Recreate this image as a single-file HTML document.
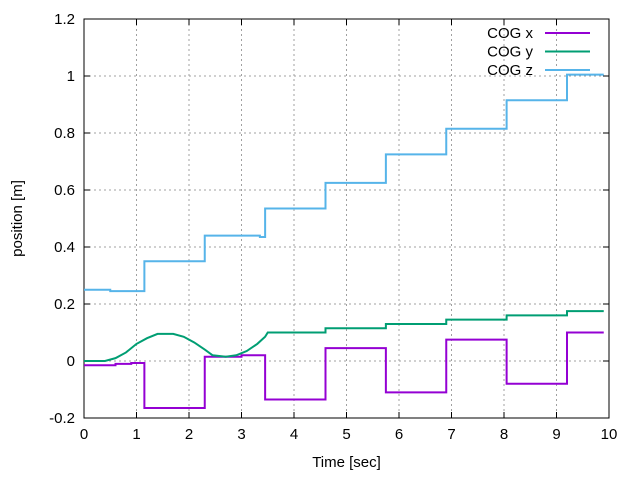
<!DOCTYPE html>
<html><head><meta charset="utf-8"><style>body{margin:0;background:#fff}svg{display:block;font-family:"Liberation Sans",sans-serif}</style></head>
<body>
<svg id="c" width="640" height="480"></svg>
<script>
const xTicks=[0,1,2,3,4,5,6,7,8,9,10];
const yTicks=[-0.2,0,0.2,0.4,0.6,0.8,1,1.2];
const yTickLabels=["-0.2","0","0.2","0.4","0.6","0.8","1","1.2"];
const seriesNames=["COG x","COG y","COG z"];
const cogXt=[0,0.6,0.9,1.15,2.3,3.0,3.45,4.6,5.75,6.9,8.05,9.2,9.9];
const cogXv=[-0.015,-0.01,-0.007,-0.165,0.015,0.02,-0.135,0.045,-0.11,0.075,-0.08,0.1,0.1];
const cogYt=[0,0.4,0.6,0.8,1.0,1.2,1.4,1.7,1.9,2.1,2.3,2.45,2.7,2.9,3.1,3.3,3.45,3.5,4.6,4.6,5.75,5.75,6.9,6.9,8.05,8.05,9.2,9.2,9.9];
const cogYv=[0,0,0.01,0.03,0.06,0.08,0.095,0.095,0.085,0.065,0.04,0.02,0.015,0.02,0.035,0.06,0.085,0.1,0.1,0.115,0.115,0.13,0.13,0.145,0.145,0.16,0.16,0.175,0.175];
const cogZt=[0,0.5,1.15,2.3,3.35,3.45,4.6,5.75,6.9,8.05,9.2,9.9];
const cogZv=[0.25,0.245,0.35,0.44,0.435,0.535,0.625,0.725,0.815,0.915,1.005,1.005];
const L=84,R=609,T=19,B=418;
const X=t=>L+(t-0)/10*(R-L);
const Y=v=>B-(v+0.2)/1.4*(B-T);
const svg=document.getElementById('c');const NS='http://www.w3.org/2000/svg';
function mk(tag,at,txt){const e=document.createElementNS(NS,tag);for(const k in at)e.setAttribute(k,at[k]);if(txt!=null)e.textContent=txt;svg.appendChild(e);return e;}
xTicks.forEach(t=>{
 if(t>0&&t<10){const g=mk('line',{x1:X(t),x2:X(t),y1:T,y2:B,stroke:'#a0a0a0','stroke-dasharray':'2,3'});}
 const k=mk('line',{x1:X(t),x2:X(t),y1:B,y2:B-6,stroke:'#000'});
 const k2=mk('line',{x1:X(t),x2:X(t),y1:T,y2:T+6,stroke:'#000'});
 const l=mk('text',{x:X(t),y:B+21,'text-anchor':'middle','font-size':15},String(t));
});
yTicks.forEach((v,i)=>{
 if(i>0&&i<yTicks.length-1){const g=mk('line',{x1:L,x2:R,y1:Y(v),y2:Y(v),stroke:'#a0a0a0','stroke-dasharray':'2,3'});}
 const k=mk('line',{x1:L,x2:L+6,y1:Y(v),y2:Y(v),stroke:'#000'});
 const k2=mk('line',{x1:R,x2:R-6,y1:Y(v),y2:Y(v),stroke:'#000'});
 const l=mk('text',{x:L-9,y:Y(v)+5,'text-anchor':'end','font-size':15},yTickLabels[i]);
});
const fr=mk('rect',{x:L,y:T,width:R-L,height:B-T,fill:'none',stroke:'#000'});
function stepPath(ts,vs){let d='M'+X(ts[0])+','+Y(vs[0]);for(let i=1;i<ts.length;i++){d+=' H'+X(ts[i])+' V'+Y(vs[i]);}return d;}
function linePath(ts,vs){return ts.map((t,i)=>(i?'L':'M')+X(t)+','+Y(vs[i])).join(' ');}
const colors=['#9400d3','#009e73','#56b4e9'];
const px=mk('path',{d:stepPath(cogXt,cogXv),fill:'none',stroke:colors[0],'stroke-width':2});
const py=mk('path',{d:linePath(cogYt,cogYv),fill:'none',stroke:colors[1],'stroke-width':2});
const pz=mk('path',{d:stepPath(cogZt,cogZv),fill:'none',stroke:colors[2],'stroke-width':2});
seriesNames.forEach((n,i)=>{const y=33+i*18.5;
 const t=mk('text',{x:533,y:y+5,'text-anchor':'end','font-size':15},n);
 const l=mk('line',{x1:545,x2:590,y1:y,y2:y,stroke:colors[i],'stroke-width':2});
});
const xt=mk('text',{x:(L+R)/2,y:467,'text-anchor':'middle','font-size':15},'Time [sec]');
const yt=mk('text',{x:0,y:0,'text-anchor':'middle','font-size':15,transform:'translate(22,'+((T+B)/2)+') rotate(-90)'},'position [m]');
</script>
</body></html>
